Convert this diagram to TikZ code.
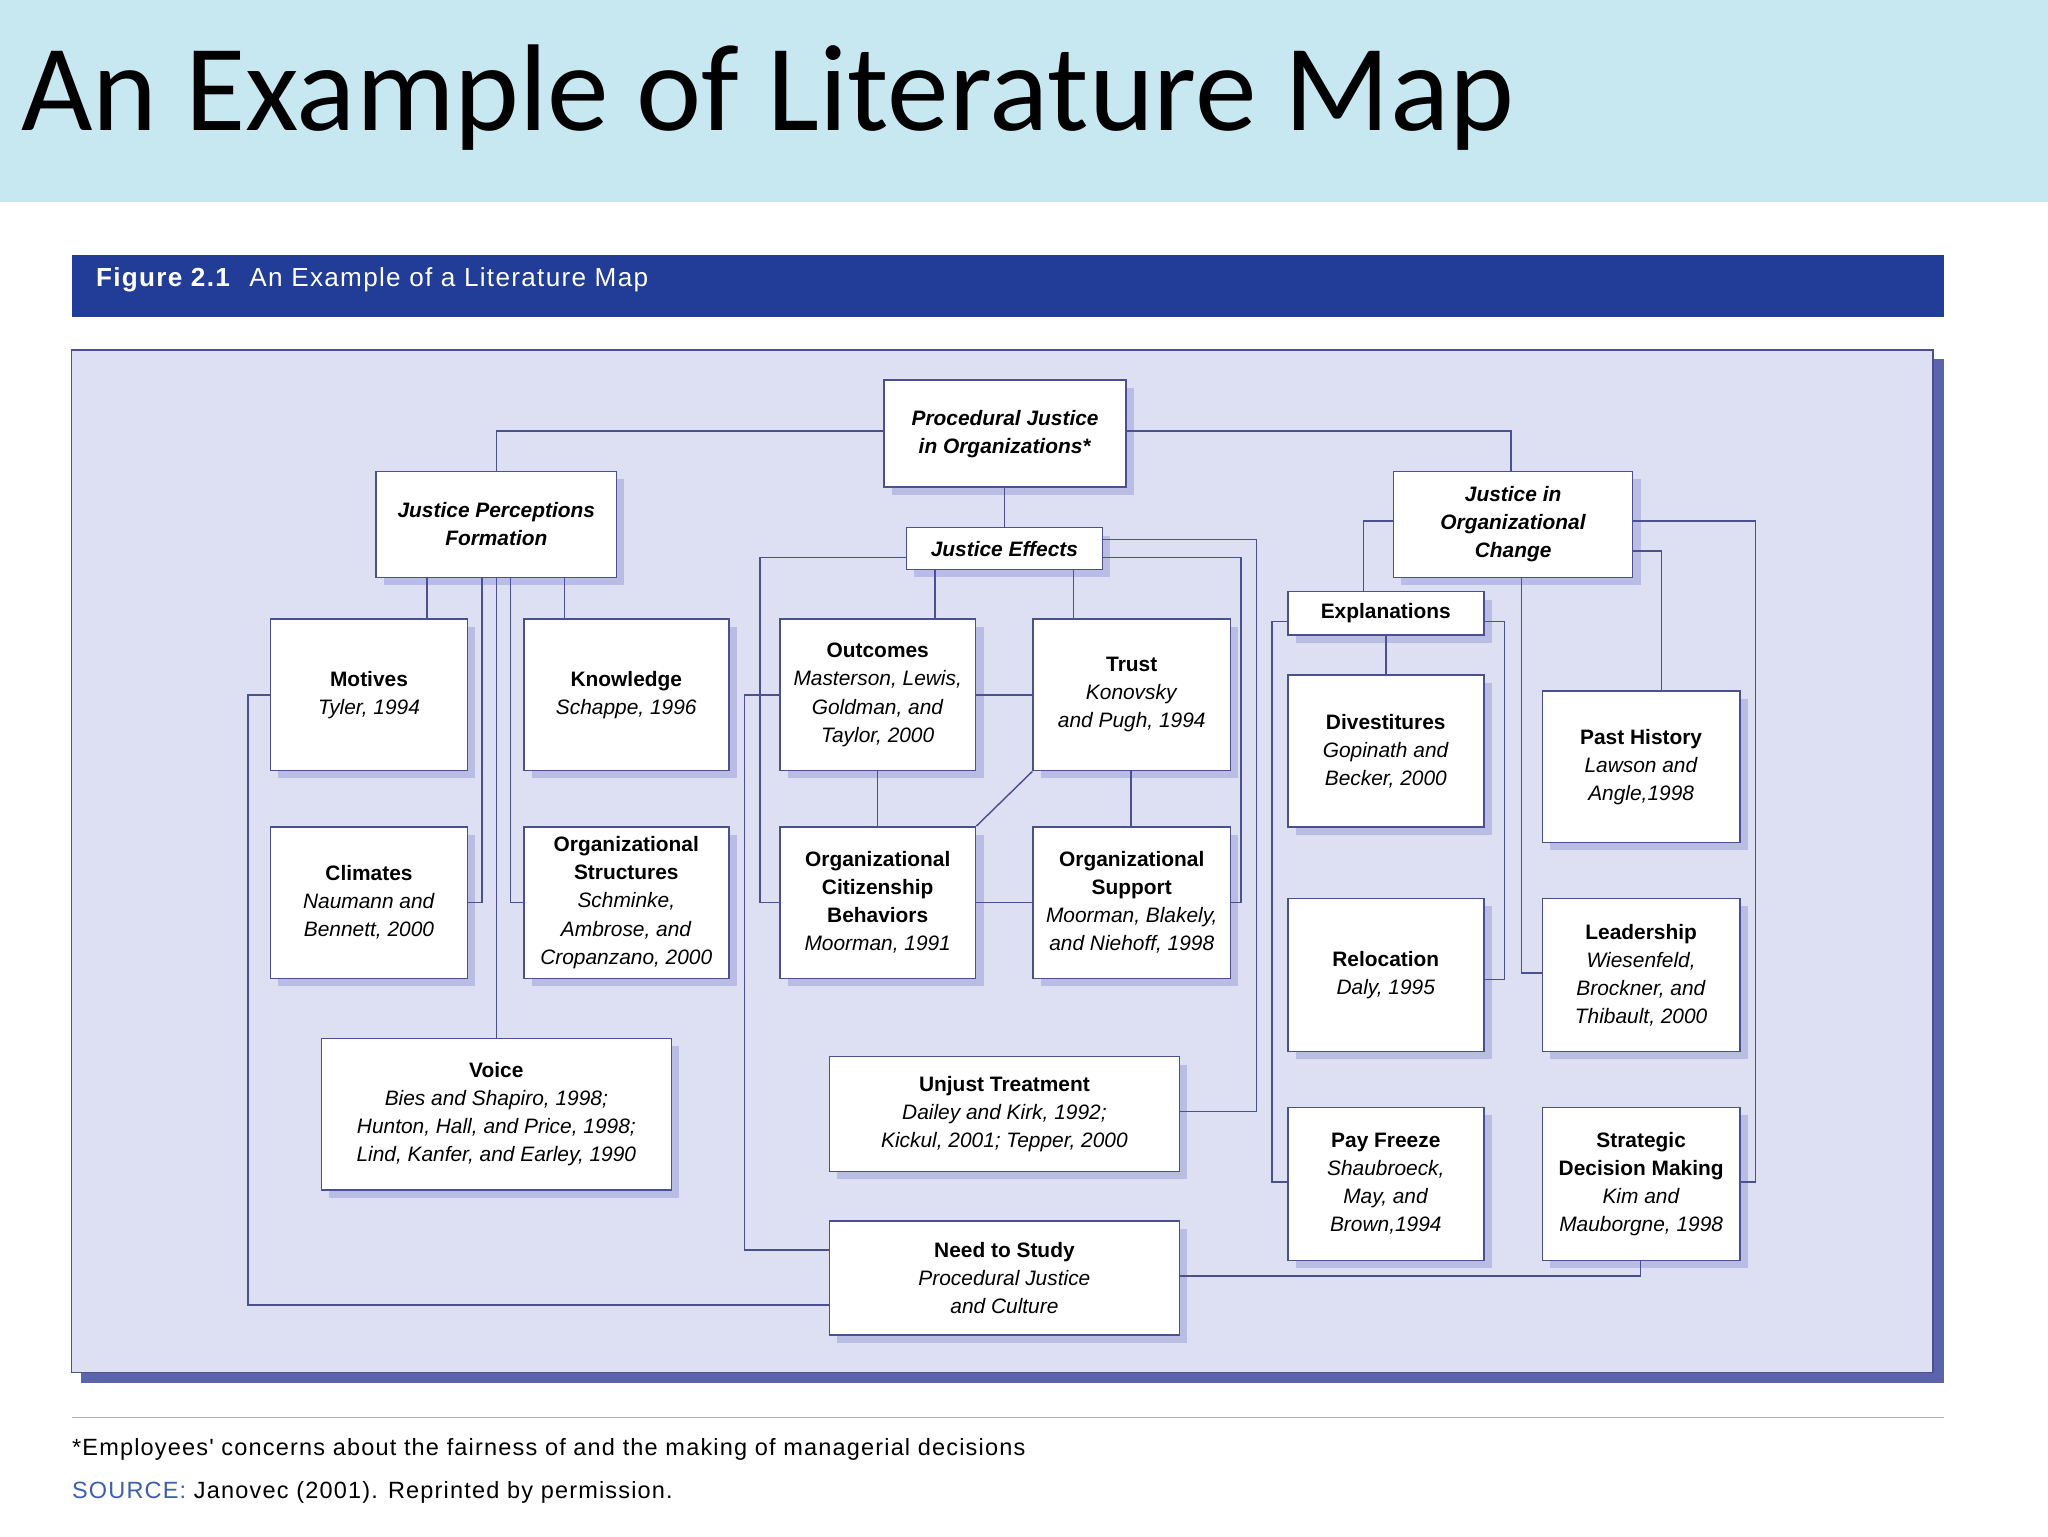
\documentclass[tikz,border=0pt]{standalone}
\usepackage{fontspec}
\setmainfont{Liberation Sans}
\newfontfamily\titlefont{Carlito}
\newfontfamily\widefont[LetterSpace=5]{Liberation Sans}
\usetikzlibrary{shadows}
\definecolor{band}{HTML}{C8E8F1}
\definecolor{figbar}{HTML}{213D97}
\definecolor{panel}{HTML}{DDE0F2}
\definecolor{panelshadow}{HTML}{5B63AA}
\definecolor{lnc}{HTML}{4A5090}
\definecolor{boxshadow}{HTML}{B9BDE3}
\definecolor{srcblue}{HTML}{3C5FB0}
\tikzset{
  bx/.style={draw=lnc, line width=1.2pt, fill=white, inner sep=0pt, align=center,
    font=\fontsize{16}{21.5}\selectfont,
    drop shadow={shadow xshift=6pt, shadow yshift=-6pt, fill=boxshadow, opacity=1}},
  ln/.style={draw=lnc, line width=1.1pt}
}
\newcommand{\bx}[6]{\node[bx, minimum width=#4-#2, minimum height=#5-#3] (#1) at ({(#2+#4)/2},{(#3+#5)/2}) {#6};}
\begin{document}
\begin{tikzpicture}[x=1pt,y=-1pt]
\useasboundingbox (0,0) rectangle (1568,1176);
\fill[white] (0,0) rectangle (1568,1176);
\fill[band] (0,0) rectangle (1568,155);
\node[anchor=base west, inner sep=0pt, font=\titlefont\fontsize{94.5}{94}\selectfont] (title) at (16,100) {An Example of Literature Map};
\fill[figbar] (55,195) rectangle (1488,243);
\node[anchor=west, text=white, font=\widefont\fontsize{20}{24}\selectfont] (figlab) at (70,214) {\textbf{Figure 2.1}\hspace{14pt}An Example of a Literature Map};
\fill[panelshadow] (62,275) rectangle (1488,1059);
\draw[fill=panel, draw=lnc, line width=1pt] (55,268) rectangle (1480,1051);
\draw[gray!60, line width=1pt] (55,1085) -- (1488,1085);
\node[anchor=base west, inner sep=0pt, font=\widefont\fontsize{18}{20}\selectfont] (fn) at (55,1114) {*Employees' concerns about the fairness of and the making of managerial decisions};
\node[anchor=base west, inner sep=0pt, font=\widefont\fontsize{18}{20}\selectfont] (src) at (55,1147) {\textcolor{srcblue}{SOURCE:} Janovec (2001). Reprinted by permission.};

% boxes
\bx{pj}{677}{291}{862}{373}{\textbf{\textit{Procedural Justice}}\\\textbf{\textit{in Organizations*}}}
\bx{jpf}{288}{361}{472}{442}{\textbf{\textit{Justice Perceptions}}\\\textbf{\textit{Formation}}}
\bx{je}{694}{404}{844}{436}{\textbf{\textit{Justice Effects}}}
\bx{joc}{1067}{361}{1250}{442}{\textbf{\textit{Justice in}}\\\textbf{\textit{Organizational}}\\\textbf{\textit{Change}}}
\bx{mot}{207}{474}{358}{590}{\textbf{Motives}\\\textit{Tyler, 1994}}
\bx{know}{401}{474}{558}{590}{\textbf{Knowledge}\\\textit{Schappe, 1996}}
\bx{out}{597}{474}{747}{590}{\textbf{Outcomes}\\\textit{Masterson, Lewis,}\\\textit{Goldman, and}\\\textit{Taylor, 2000}}
\bx{trust}{791}{474}{942}{590}{\textbf{Trust}\\\textit{Konovsky}\\\textit{and Pugh, 1994}}
\bx{clim}{207}{633}{358}{749}{\textbf{Climates}\\\textit{Naumann and}\\\textit{Bennett, 2000}}
\bx{ostr}{401}{633}{558}{749}{\textbf{Organizational}\\\textbf{Structures}\\\textit{Schminke,}\\\textit{Ambrose, and}\\\textit{Cropanzano, 2000}}
\bx{ocb}{597}{633}{747}{749}{\textbf{Organizational}\\\textbf{Citizenship}\\\textbf{Behaviors}\\\textit{Moorman, 1991}}
\bx{osup}{791}{633}{942}{749}{\textbf{Organizational}\\\textbf{Support}\\\textit{Moorman, Blakely,}\\\textit{and Niehoff, 1998}}
\bx{voice}{246}{795}{514}{911}{\textbf{Voice}\\\textit{Bies and Shapiro, 1998;}\\\textit{Hunton, Hall, and Price, 1998;}\\\textit{Lind, Kanfer, and Earley, 1990}}
\bx{unj}{635}{809}{903}{897}{\textbf{Unjust Treatment}\\\textit{Dailey and Kirk, 1992;}\\\textit{Kickul, 2001; Tepper, 2000}}
\bx{need}{635}{935}{903}{1022}{\textbf{Need to Study}\\\textit{Procedural Justice}\\\textit{and Culture}}
\bx{expl}{986}{453}{1136}{486}{\textbf{Explanations}}
\bx{div}{986}{517}{1136}{633}{\textbf{Divestitures}\\\textit{Gopinath and}\\\textit{Becker, 2000}}
\bx{reloc}{986}{688}{1136}{805}{\textbf{Relocation}\\\textit{Daly, 1995}}
\bx{pay}{986}{848}{1136}{965}{\textbf{Pay Freeze}\\\textit{Shaubroeck,}\\\textit{May, and}\\\textit{Brown,1994}}
\bx{past}{1181}{529}{1332}{645}{\textbf{Past History}\\\textit{Lawson and}\\\textit{Angle,1998}}
\bx{lead}{1181}{688}{1332}{805}{\textbf{Leadership}\\\textit{Wiesenfeld,}\\\textit{Brockner, and}\\\textit{Thibault, 2000}}
\bx{strat}{1181}{848}{1332}{965}{\textbf{Strategic}\\\textbf{Decision Making}\\\textit{Kim and}\\\textit{Mauborgne, 1998}}

\begin{scope}[ln]
\draw (pj.west |- 0,330) -| (jpf.north -| 380,0);
\draw (pj.east |- 0,330) -| (joc.north -| 1157,0);
\draw (pj.south -| 769,0) -- (je.north -| 769,0);
\draw (jpf.south -| 327,0) -- (mot.north -| 327,0);
\draw (jpf.south -| 432,0) -- (know.north -| 432,0);
\draw (jpf.south -| 369,0) |- (clim.east |- 0,691);
\draw (jpf.south -| 391,0) |- (ostr.west |- 0,691);
\draw (jpf.south -| 380,0) -- (voice.north -| 380,0);
\draw (mot.west |- 0,532) -- (190,532) |- (need.west |- 0,999);
\draw (je.south -| 716,0) -- (out.north -| 716,0);
\draw (je.south -| 822,0) -- (trust.north -| 822,0);
\draw (je.west |- 0,427) -- (582,427) |- (ocb.west |- 0,691);
\draw (je.east |- 0,427) -- (950,427) |- (osup.east |- 0,691);
\draw (je.east |- 0,413) -- (962,413) |- (unj.east |- 0,851);
\draw (out.west |- 0,532) -- (570,532) |- (need.west |- 0,957);
\draw (out.east |- 0,532) -- (trust.west |- 0,532);
\draw (out.south -| 672,0) -- (ocb.north -| 672,0);
\draw (trust.south west) -- (ocb.north east);
\draw (trust.south -| 866,0) -- (osup.north -| 866,0);
\draw (ocb.east |- 0,691) -- (osup.west |- 0,691);
\draw (joc.west |- 0,399) -| (expl.north -| 1044,0);
\draw (joc.east |- 0,399) -- (1344,399) |- (strat.east |- 0,905);
\draw (joc.east |- 0,422) -| (past.north -| 1272,0);
\draw (joc.south -| 1165,0) |- (lead.west |- 0,745);
\draw (expl.south -| 1061,0) -- (div.north -| 1061,0);
\draw (expl.west |- 0,476) -- (974,476) |- (pay.west |- 0,905);
\draw (expl.east |- 0,476) -- (1152,476) |- (reloc.east |- 0,750);
\draw (need.east |- 0,977) -| (strat.south -| 1256,0);
\end{scope}
\end{tikzpicture}
\end{document}
